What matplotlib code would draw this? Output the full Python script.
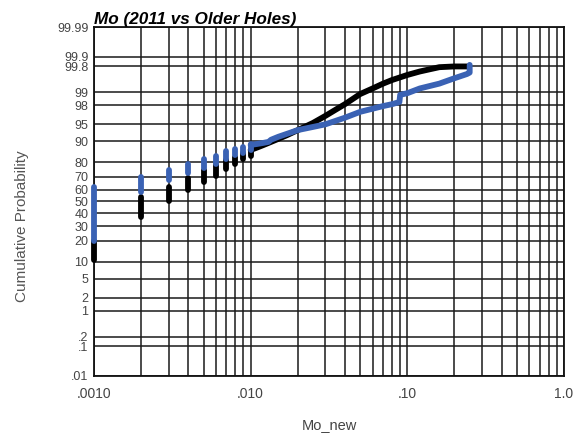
import numpy as np
import matplotlib
matplotlib.use("Agg")
import matplotlib.pyplot as plt
from matplotlib.ticker import FixedLocator, FixedFormatter, LogLocator, NullFormatter
from statistics import NormalDist

plt.rcParams["font.family"] = ["Liberation Sans", "DejaVu Sans"]

# detection-limit steps: value, lowest and highest cumulative probability (%)
old_step_x  = [0.001, 0.002, 0.003, 0.004, 0.005, 0.006, 0.007, 0.008, 0.009, 0.010]
old_step_lo = [10.5, 37, 50.5, 60, 66, 71, 75.5, 78.5, 81.5, 83.5]
old_step_hi = [20, 54, 62, 69, 75, 78, 81, 82.7, 84.8, 86.4]

new_step_x  = [0.001, 0.002, 0.003, 0.004, 0.005, 0.006, 0.007, 0.008, 0.009, 0.010]
new_step_lo = [20, 58, 67.5, 72.5, 76.5, 79, 81.5, 84, 85, 86.4]
new_step_hi = [62, 70, 75, 79, 81.6, 83.5, 85.9, 87, 87.9, 89]

# continuous upper tails
old_tail_x = [0.010, 0.011, 0.012, 0.013, 0.015, 0.017, 0.020, 0.025, 0.030, 0.035,
              0.040, 0.050, 0.060, 0.070, 0.080, 0.100, 0.120, 0.140, 0.160, 0.200, 0.240]
old_tail_p = [86.4, 87.5, 88.5, 89.4, 90.9, 92.1, 93.6, 95.3, 96.6, 97.5,
              98.1, 98.9, 99.2, 99.4, 99.52, 99.65, 99.72, 99.76, 99.79, 99.8, 99.8]

new_tail_x = [0.010, 0.011, 0.012, 0.013, 0.0135, 0.015, 0.020, 0.025, 0.030, 0.040,
              0.050, 0.060, 0.070, 0.080, 0.089, 0.090, 0.100, 0.120, 0.160, 0.200,
              0.240, 0.250, 0.250]
new_tail_p = [88.6, 89.0, 89.4, 89.8, 90.6, 91.6, 93.6, 94.4, 95.0, 96.3,
              97.2, 97.6, 97.9, 98.1, 98.3, 98.85, 98.95, 99.2, 99.4, 99.57,
              99.67, 99.7, 99.82]

prob_ticks  = [0.01, 0.1, 0.2, 1, 2, 5, 10, 20, 30, 40, 50, 60, 70, 80, 90, 95, 98, 99, 99.8, 99.9, 99.99]
prob_labels = [".01", ".1", ".2", "1", "2", "5", "10", "20", "30", "40", "50", "60", "70",
               "80", "90", "95", "98", "99", "99.8", "99.9", "99.99"]
x_ticks  = [0.001, 0.01, 0.1, 1.0]
x_labels = [".0010", ".010", ".10", "1.0"]

nd = NormalDist()
_ppf = np.vectorize(nd.inv_cdf, otypes=[float])
_cdf = np.vectorize(nd.cdf, otypes=[float])

def fwd(p):
    p = np.clip(np.asarray(p, dtype=float), 1e-7, 100 - 1e-7)
    return _ppf(p / 100.0)

def inv(z):
    return _cdf(np.asarray(z, dtype=float)) * 100.0

fig = plt.figure(figsize=(5.83, 4.33), dpi=100)
ax = fig.add_axes([94 / 583, 1 - 376 / 433, 470 / 583, 349 / 433])

ax.set_xscale("log")
ax.set_yscale("function", functions=(fwd, inv))
ax.set_xlim(0.001, 1.0)
ax.set_ylim(0.01, 99.99)

black = "#000000"
blue = "#3a62b4"
lw = 4.2

for x, lo, hi in zip(old_step_x, old_step_lo, old_step_hi):
    ax.plot([x, x], [lo, hi], color=black, lw=lw, solid_capstyle="round", zorder=3, clip_on=False)
ax.plot(old_tail_x, old_tail_p, color=black, lw=lw, solid_capstyle="round", zorder=3)
for x, lo, hi in zip(new_step_x, new_step_lo, new_step_hi):
    ax.plot([x, x], [lo, hi], color=blue, lw=lw, solid_capstyle="round", zorder=4, clip_on=False)
ax.plot(new_tail_x, new_tail_p, color=blue, lw=lw, solid_capstyle="round", zorder=4)

ax.yaxis.set_major_locator(FixedLocator(prob_ticks))
ax.yaxis.set_major_formatter(FixedFormatter(prob_labels))
ax.yaxis.set_minor_locator(FixedLocator([]))
ax.xaxis.set_major_locator(FixedLocator(x_ticks))
ax.xaxis.set_major_formatter(FixedFormatter(x_labels))
ax.xaxis.set_minor_locator(LogLocator(base=10, subs=np.arange(2, 10)))
ax.xaxis.set_minor_formatter(NullFormatter())

ax.grid(True, which="both", color="#1a1a1a", lw=1.1)
ax.set_axisbelow(True)
ax.tick_params(which="both", length=0, labelcolor="#444444")
ax.tick_params(axis="y", pad=4, labelsize=9)
ax.tick_params(axis="x", pad=8, labelsize=10)
for s in ax.spines.values():
    s.set_linewidth(1.3)
    s.set_color("#111111")

ax.set_title("Mo (2011 vs Older Holes)", loc="left", fontsize=12.3, fontweight="bold",
             fontstyle="italic", pad=2)
fig.text(22 / 583, 1 - 226 / 433, "Cumulative Probability", rotation=90, ha="center",
         va="center", fontsize=11, color="#555555")
fig.text(329 / 583, 1 - 425 / 433, "Mo_new", ha="center", va="center", fontsize=10.5,
         color="#444444")

fig.savefig("out.png", dpi=100)
